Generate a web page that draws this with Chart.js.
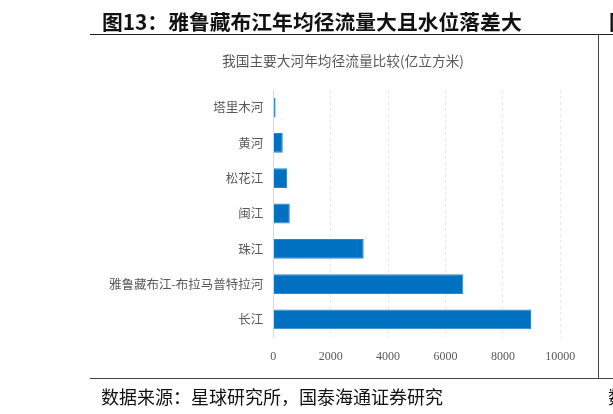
<!DOCTYPE html>
<html><head><meta charset="utf-8">
<script src="https://cdn.jsdelivr.net/npm/chart.js@4/dist/chart.umd.min.js"></script>
<style>
html,body{margin:0;padding:0;background:#fff;width:613px;height:414px;overflow:hidden;position:relative}
.t{position:absolute;white-space:nowrap;font-family:"Noto Sans CJK SC",sans-serif}
.ln{position:absolute;background:#222}
#c{position:absolute;left:0;top:0}
</style></head><body>
<canvas id="c" width="613" height="414"></canvas>
<div class="t" style="left:102px;top:6px;font-size:20.8px;font-weight:bold;color:#111">图13：雅鲁藏布江年均径流量大且水位落差大</div>
<div class="t" style="left:609px;top:6px;font-size:20.8px;font-weight:bold;color:#111">图</div>
<div class="ln" style="left:90px;top:34px;width:523px;height:1px"></div>
<div class="ln" style="left:598px;top:34px;width:1px;height:344px;background:#444"></div>
<div class="ln" style="left:90px;top:378px;width:523px;height:1px;background:#444"></div>
<div class="t" style="left:222px;top:50px;font-size:13.7px;color:#595959">我国主要大河年均径流量比较(亿立方米)</div>
<div class="t" style="left:101px;top:383px;font-size:18px;color:#111">数据来源：星球研究所，国泰海通证券研究</div>
<div class="t" style="left:608px;top:383px;font-size:18px;color:#111">数</div>
<script>
const categories = ["塔里木河","黄河","松花江","闽江","珠江","雅鲁藏布江-布拉马普特拉河","长江"];
const flowValues = [80, 330, 480, 575, 3150, 6620, 8980];
const xTicks = [0, 2000, 4000, 6000, 8000, 10000];

new Chart(document.getElementById('c'), {
  type: 'bar',
  data: {
    labels: categories,
    datasets: [{
      data: flowValues,
      backgroundColor: '#0070C0',
      borderColor: '#2a86cc',
      borderWidth: 1,
      barPercentage: 0.56,
      categoryPercentage: 1.0
    }]
  },
  options: {
    indexAxis: 'y',
    responsive: false,
    animation: false,
    devicePixelRatio: 1,
    layout: { padding: { left: 0, top: 90, right: 52.7, bottom: 47 } },
    plugins: { legend: { display: false }, tooltip: { enabled: false }, title: { display: false } },
    scales: {
      x: {
        min: 0, max: 10000,
        afterBuildTicks: s => { s.ticks = xTicks.map(v => ({ value: v })); },
        afterFit: s => { s.height = 30; },
        grid: { color: '#e6e6e6', drawTicks: false, lineWidth: 1 },
        border: { display: false, dash: [3, 3] },
        ticks: { padding: 13, color: '#595959', font: { family: 'Liberation Serif', size: 12 },
                 callback: v => String(v) }
      },
      y: {
        afterFit: s => { s.width = 273.3; },
        grid: { display: false, drawTicks: false },
        border: { display: true, color: '#d9d9d9', width: 1 },
        ticks: { padding: 10, color: '#595959', font: { family: 'Noto Sans CJK SC', size: 12.5 } }
      }
    }
  }
});
</script>
</body></html>
